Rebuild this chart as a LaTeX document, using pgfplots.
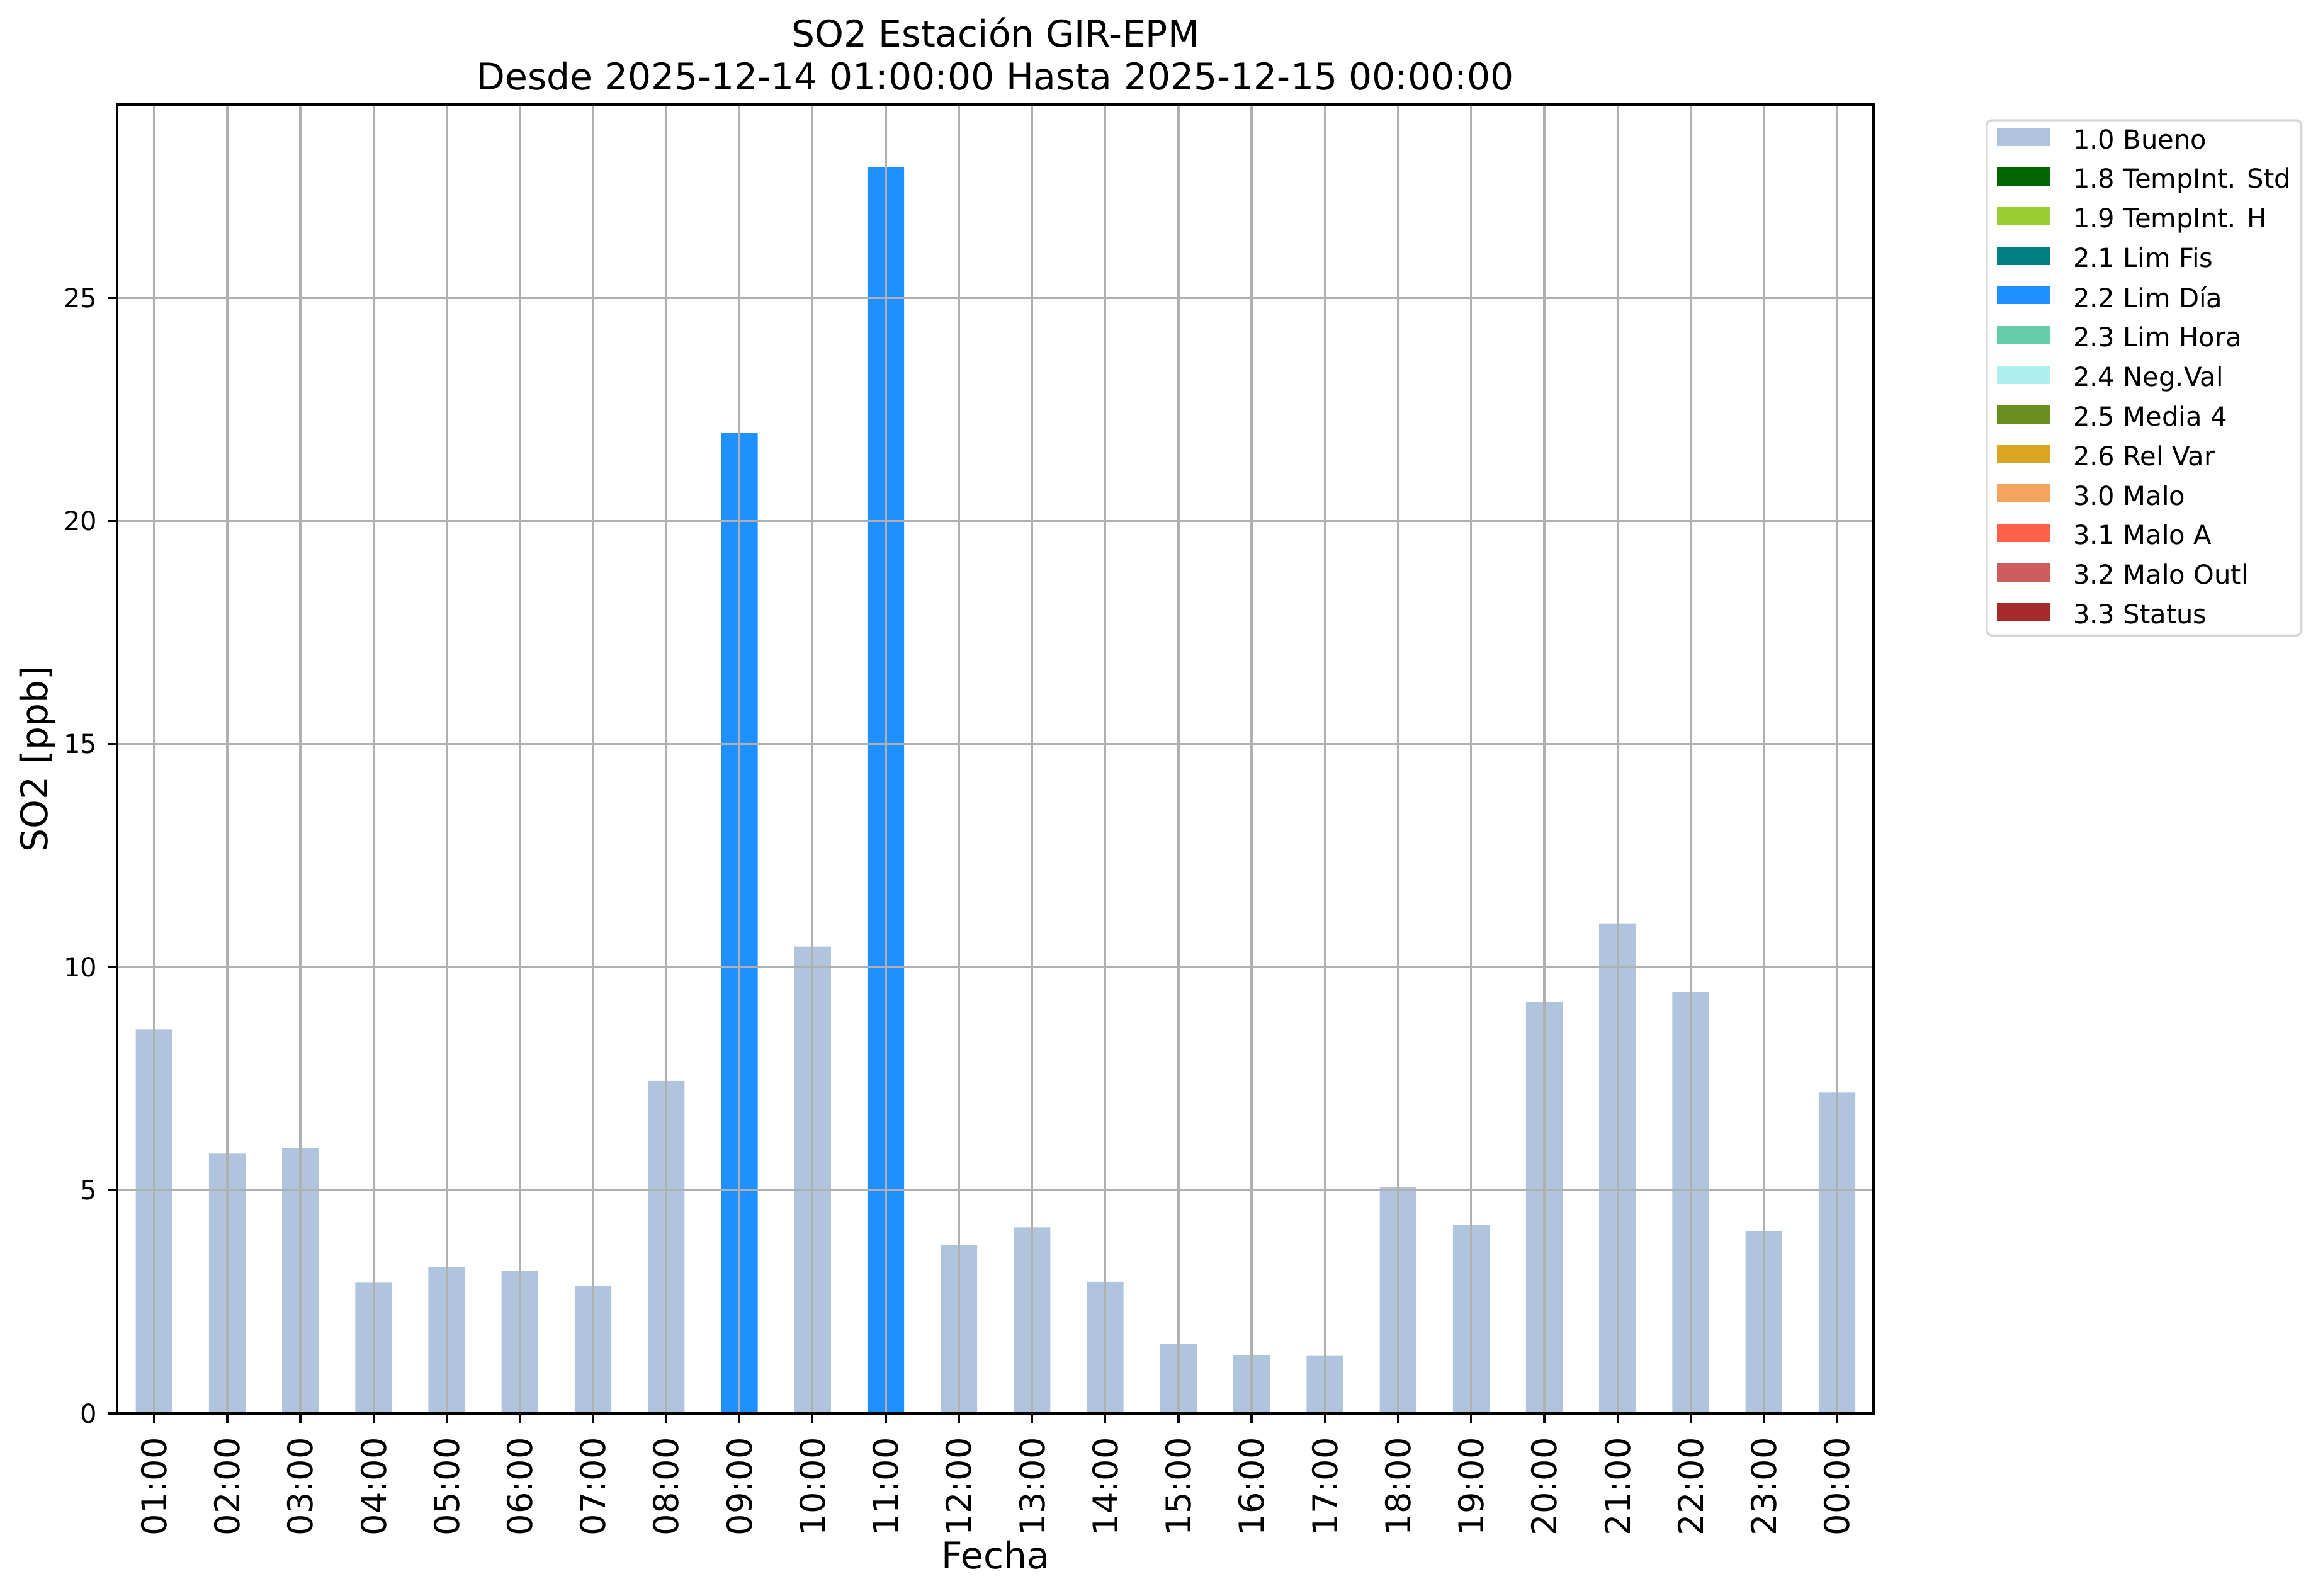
\documentclass[border=0pt]{standalone}
\usepackage{fontspec}
\setmainfont{DejaVu Sans}
\usepackage{pgfplots}
\pgfplotsset{compat=1.18}
\definecolor{bueno}{HTML}{B0C4DE}
\definecolor{dgreen}{HTML}{006400}
\definecolor{ygreen}{HTML}{9ACD32}
\definecolor{teal2}{HTML}{008080}
\definecolor{dblue}{HTML}{1E90FF}
\definecolor{maqua}{HTML}{66CDAA}
\definecolor{pturq}{HTML}{AFEEEE}
\definecolor{odrab}{HTML}{6B8E23}
\definecolor{grod}{HTML}{DAA520}
\definecolor{sbrown}{HTML}{F4A460}
\definecolor{tomato}{HTML}{FF6347}
\definecolor{ired}{HTML}{CD5C5C}
\definecolor{brown2}{HTML}{A52A2A}
\definecolor{gridc}{HTML}{B0B0B0}
\definecolor{legc}{HTML}{D6D6D6}
\newcommand{\ls}{\rule[-2.4pt]{0pt}{10pt}}
\begin{document}
\begin{tikzpicture}
\begin{axis}[
  name=ax,
  at={(0,0)}, anchor=south west,
  scale only axis,
  width=669.5pt, height=498.96pt,
  xmin=-0.5, xmax=23.5,
  ymin=0, ymax=29.33,
  xtick={0,...,23},
  xticklabels={01:00,02:00,03:00,04:00,05:00,06:00,07:00,08:00,09:00,10:00,11:00,12:00,13:00,14:00,15:00,16:00,17:00,18:00,19:00,20:00,21:00,22:00,23:00,00:00},
  ytick={0,5,10,15,20,25},
  /pgf/number format/assume math mode=true,
  tick align=outside,
  major tick length=3.5pt,
  every tick/.style={black, line width=0.8pt},
  xtick pos=bottom, ytick pos=left,
  axis line style={line width=0.8pt},
  grid=major,
  major grid style={gridc, line width=0.8pt},
  axis on top,
  clip=false,
  xticklabel style={rotate=90, anchor=east, inner sep=0pt, font=\fontsize{13}{15}\selectfont},
  xticklabel shift=5.5pt,
  yticklabel style={anchor=east, inner sep=0pt, font=\fontsize{10}{12}\selectfont},
  yticklabel shift=4pt,
  xlabel={Fecha},
  xlabel style={at={(axis description cs:0.5,-0.11833)}, anchor=base, inner sep=0pt, font=\fontsize{14}{16}\selectfont},
  ylabel={SO2 [ppb]},
  ylabel style={at={(axis description cs:-0.03988,0.5)}, rotate=0, anchor=base, inner sep=0pt, font=\fontsize{14}{16}\selectfont},
  legend image code/.code={\fill[#1, draw=none, sharp corners] (0pt,-2.1pt) rectangle (20pt,4.8pt); \path (28.6pt,3pt);},
  legend style={at={(1.0638,0.9888)}, anchor=north west, draw=legc, line width=0.8pt, rounded corners=2pt,
    font=\fontsize{10}{12}\selectfont, inner xsep=4pt, inner ysep=3pt, row sep=5.72pt,
    nodes={inner sep=0pt}},
  legend cell align=left,
]
\addplot[ybar, bar width=0.5, bar shift=0pt, fill=bueno, draw=none, forget plot] coordinates {
(0,8.60) (1,5.82) (2,5.95) (3,2.93) (4,3.28) (5,3.19) (6,2.86) (7,7.45)
(9,10.46) (11,3.78) (12,4.17) (13,2.95) (14,1.55) (15,1.31) (16,1.29)
(17,5.07) (18,4.23) (19,9.22) (20,10.98) (21,9.44) (22,4.08) (23,7.19)};
\addplot[ybar, bar width=0.5, bar shift=0pt, fill=dblue, draw=none, forget plot] coordinates {
(8,21.97) (10,27.93)};
\addlegendimage{fill=bueno}\addlegendentry{\ls 1.0 Bueno}
\addlegendimage{fill=dgreen}\addlegendentry{\ls 1.8 TempInt. Std}
\addlegendimage{fill=ygreen}\addlegendentry{\ls 1.9 TempInt. H}
\addlegendimage{fill=teal2}\addlegendentry{\ls 2.1 Lim Fis}
\addlegendimage{fill=dblue}\addlegendentry{\ls 2.2 Lim Día}
\addlegendimage{fill=maqua}\addlegendentry{\ls 2.3 Lim Hora}
\addlegendimage{fill=pturq}\addlegendentry{\ls 2.4 Neg.Val}
\addlegendimage{fill=odrab}\addlegendentry{\ls 2.5 Media 4}
\addlegendimage{fill=grod}\addlegendentry{\ls 2.6 Rel Var}
\addlegendimage{fill=sbrown}\addlegendentry{\ls 3.0 Malo}
\addlegendimage{fill=tomato}\addlegendentry{\ls 3.1 Malo A}
\addlegendimage{fill=ired}\addlegendentry{\ls 3.2 Malo Outl}
\addlegendimage{fill=brown2}\addlegendentry{\ls 3.3 Status}
\node[anchor=base, inner sep=0pt, font=\fontsize{14}{16}\selectfont] at (axis description cs:0.5,1.04377) {SO2 Estación GIR-EPM};
\node[anchor=base, inner sep=0pt, font=\fontsize{14}{16}\selectfont] at (axis description cs:0.5,1.01154) {Desde 2025-12-14 01:00:00 Hasta 2025-12-15 00:00:00};
\end{axis}
\pgfresetboundingbox
\path[use as bounding box] ([shift={(-44.76pt,-69.36pt)}]ax.south west) rectangle ([shift={(838.92pt,538.8pt)}]ax.south west);
\end{tikzpicture}
\end{document}
